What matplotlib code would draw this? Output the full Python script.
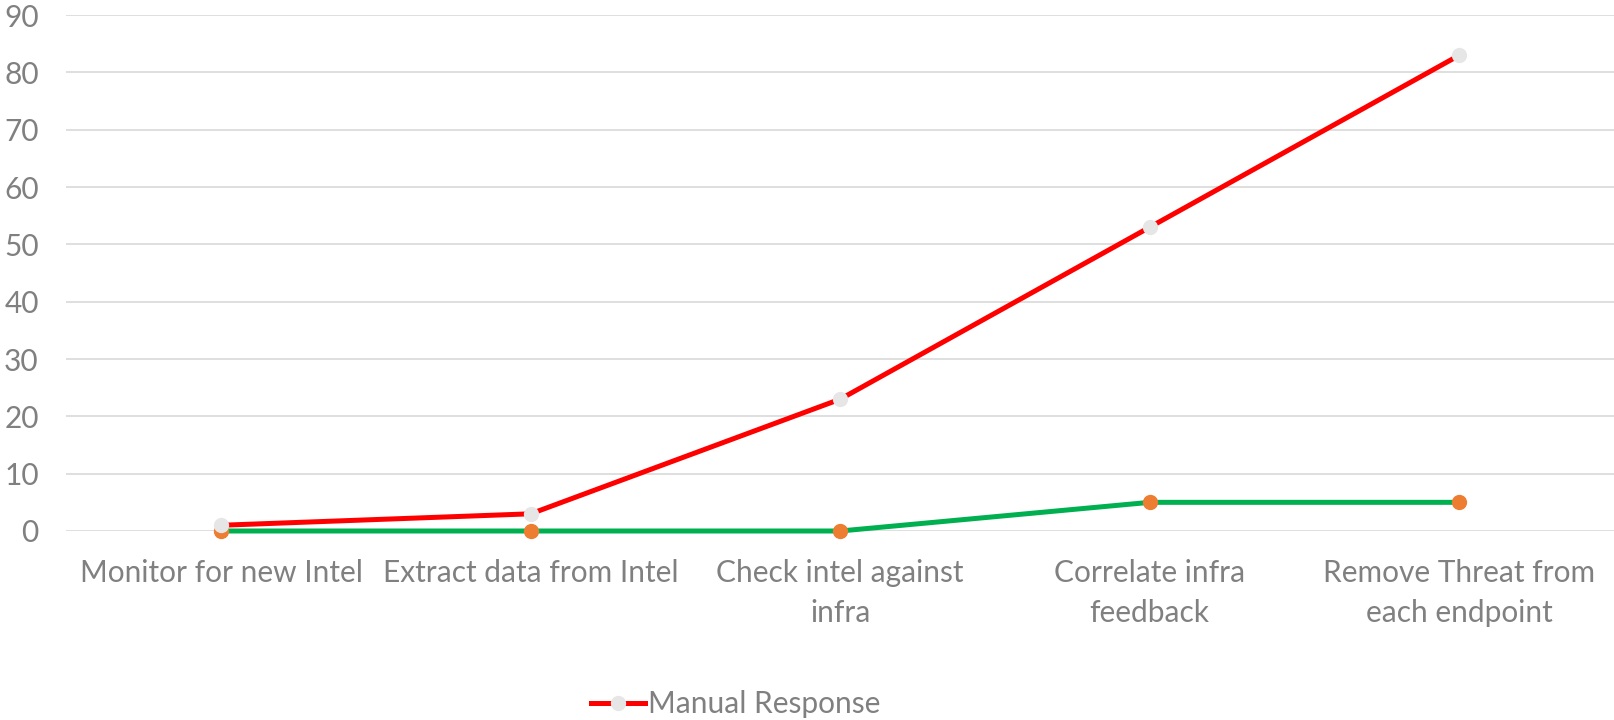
import matplotlib
matplotlib.use("Agg")
import matplotlib.pyplot as plt
from matplotlib.lines import Line2D

categories = ["Monitor for new Intel", "Extract data from Intel",
              "Check intel against\ninfra", "Correlate infra\nfeedback",
              "Remove Threat from\neach endpoint"]
manual = [1, 3, 23, 53, 83]
automated = [0, 0, 0, 5, 5]
yticks = [0, 10, 20, 30, 40, 50, 60, 70, 80, 90]

plt.rcParams['font.family'] = ['Lato', 'DejaVu Sans']
txt = '#808080'
fs = 21.5

fig = plt.figure(figsize=(16.14, 7.2), dpi=100)
ax = fig.add_axes([0.0412, 0.2625, 0.9588, 0.7165])

x = list(range(len(categories)))
ax.plot(x, automated, color='#00B050', lw=3.6, marker='o', ms=10,
        mfc='#ED7D31', mec='#ED7D31', clip_on=False, zorder=3,
        solid_capstyle='round')
ax.plot(x, manual, color='#FF0000', lw=3.6, marker='o', ms=10,
        mfc='#E7E6E6', mec='#E7E6E6', clip_on=False, zorder=4,
        solid_capstyle='round')

ax.set_xlim(-0.5, len(categories) - 0.5)
ax.set_ylim(0, 90)
ax.set_yticks(yticks)
ax.set_yticklabels([str(v) for v in yticks])
ax.set_xticks(x)
ax.set_xticklabels(categories, linespacing=1.55)
ax.tick_params(axis='y', length=0, pad=20, labelsize=fs, labelcolor=txt)
ax.tick_params(axis='x', length=0, pad=20, labelsize=fs, labelcolor=txt)
ax.grid(axis='y', color='#D9D9D9', lw=1.2)
ax.set_axisbelow(True)
for s in ax.spines.values():
    s.set_visible(False)

h = Line2D([], [], color='#FF0000', lw=3.6, marker='o', ms=10,
           mfc='#E7E6E6', mec='#E7E6E6')
fig.legend(handles=[h], labels=['Manual Response'], loc='center',
           bbox_to_anchor=(0.456, 0.022), frameon=False, fontsize=fs,
           labelcolor=txt, handlelength=1.8, handletextpad=0.1,
           borderpad=0.1)

fig.savefig('out.png', dpi=100)
